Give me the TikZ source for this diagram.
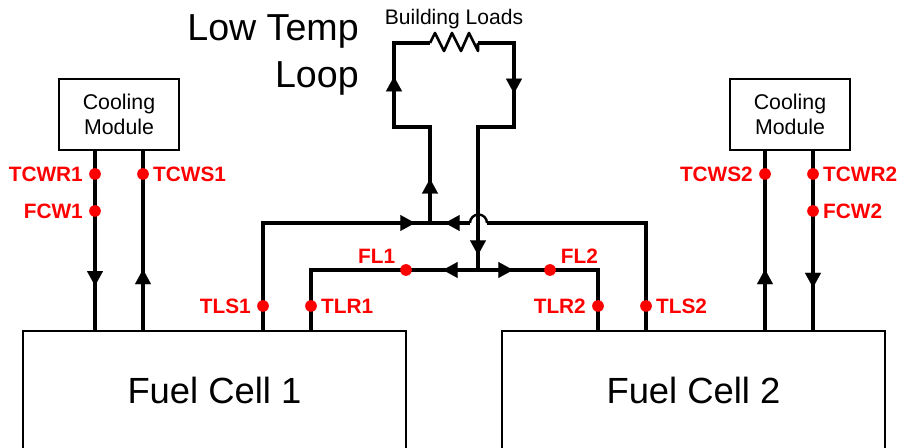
\documentclass[tikz,border=0pt]{standalone}
\usepackage{fontspec}
\setmainfont{Liberation Sans}
\usetikzlibrary{positioning,arrows.meta,decorations.markings}
\tikzset{
  figbox/.style={draw, line width=1.3pt, align=center, inner sep=0pt, fill=white},
  fuelbox/.style={figbox, minimum width=287pt, minimum height=88.5pt, font=\fontsize{27.3}{30}\selectfont},
  coolbox/.style={figbox, minimum width=90pt, minimum height=53pt, font=\fontsize{16}{19}\selectfont},
  pipe/.style={line width=3pt, line join=miter},
  flowtip/.style={postaction={decorate}, decoration={markings,
    mark=at position #1 with {\arrow[line width=0.1pt]{Triangle[length=11pt,width=12pt]}}}},
  sensor/.style={circle, fill=red, inner sep=0pt, minimum size=8.5pt},
  senslabel/.style={text=red, inner sep=0pt, font=\fontsize{15.6}{18}\selectfont\bfseries},
}
\begin{document}
\begin{tikzpicture}[x=0.75pt,y=-0.75pt]
  \useasboundingbox (0,0) rectangle (900,448);
  \clip (0,0) rectangle (900,448);
  % boxes
  \node[fuelbox] (fc1) at (214.5,390) {Fuel Cell 1};
  \node[fuelbox] (fc2) at (693.5,390) {Fuel Cell 2};
  \node[coolbox] (cm1) at (119,114.5) {Cooling\\Module};
  \node[coolbox] (cm2) at (790,114.5) {Cooling\\Module};
  % low temp loop corners
  \coordinate (supup) at (430,127);
  \coordinate (retup) at (478,127);
  \coordinate (ll) at (394,127);
  \coordinate (lr) at (514,127);
  \coordinate (ul) at (394,43);
  \coordinate (ur) at (514,43);
  \coordinate (resl) at (430,43);
  \coordinate (resr) at (478,43);
  \coordinate (supj) at (430,223);
  \coordinate (hopr) at (487,223);
  \coordinate (hopl) at (470,223);
  \coordinate (retj) at (478,270);
  \coordinate (tlsc1) at (263,223);
  \coordinate (tlrc1) at (311,270);
  \coordinate (tlsc2) at (646,223);
  \coordinate (tlrc2) at (598,270);
  % sensors
  \node[sensor] (tcwr1) at (95,174) {};
  \node[sensor] (fcw1) at (95,211) {};
  \node[sensor] (tcws1) at (143,174) {};
  \node[sensor] (tcws2) at (765,174) {};
  \node[sensor] (tcwr2) at (813,174) {};
  \node[sensor] (fcw2) at (813,211) {};
  \node[sensor] (tls1) at (263,306) {};
  \node[sensor] (tlr1) at (311,306) {};
  \node[sensor] (tlr2) at (598,306) {};
  \node[sensor] (tls2) at (646,306) {};
  \node[sensor] (fl1) at (406,270) {};
  \node[sensor] (fl2) at (550,270) {};
  % cooling water lines
  \draw[pipe, flowtip=0.75] (95,150) -- (95,331);
  \draw[pipe, flowtip=0.34] (143,331) -- (143,150);
  \draw[pipe, flowtip=0.34] (765,331) -- (765,150);
  \draw[pipe, flowtip=0.76] (813,150) -- (813,331);
  % stack lines
  \draw[pipe] (fc1.north -| tls1) -- (tlsc1) -- (supj);
  \path[flowtip=0.91] (tlsc1) -- (supj);
  \draw[pipe] (fc1.north -| tlr1) -- (tlrc1) -- (retj) -- (tlrc2) -- (fc2.north -| tlr2);
  \path[flowtip=0.53] (retj) -- (fl1);
  \path[flowtip=0.53] (retj) -- (fl2);
  \draw[pipe] (fc2.north -| tls2) -- (tlsc2) -- (hopr);
  \draw[pipe, flowtip=0.625] (hopl) -- (supj);
  \draw[line width=1.8pt] (hopr) arc[start angle=0, end angle=-180, radius=8.5];
  % low temp loop
  \draw[pipe] (supj) -- (supup) -- (ll) -- (ul) -- (resl);
  \path[flowtip=0.46] (supj) -- (supup);
  \path[flowtip=0.6] (ll) -- (ul);
  \draw[line width=2pt, line join=round] (resl) -- ++(5,-10) -- ++(9,18) -- ++(8,-18) -- ++(9,18) -- ++(8,-18) -- ++(9,18) -- (resr);
  \draw[pipe] (resr) -- (ur) -- (lr) -- (retup) -- (retj);
  \path[flowtip=0.6] (ur) -- (lr);
  \path[flowtip=0.895] (retup) -- (retj);
  % sensor dots on top of the lines
  \foreach \s in {tcwr1,fcw1,tcws1,tcws2,tcwr2,fcw2,tls1,tlr1,tlr2,tls2,fl1,fl2}
    \fill[red] (\s) circle[radius=5.8];
  % labels
  \node[senslabel, left=4.5pt of tcwr1] (ltcwr1) {TCWR1};
  \node[senslabel, left=4.5pt of fcw1] (lfcw1) {FCW1};
  \node[senslabel, right=3pt of tcws1] (ltcws1) {TCWS1};
  \node[senslabel, left=4.5pt of tcws2] (ltcws2) {TCWS2};
  \node[senslabel, right=3pt of tcwr2] (ltcwr2) {TCWR2};
  \node[senslabel, right=3pt of fcw2] (lfcw2) {FCW2};
  \node[senslabel, left=4.5pt of tls1] (ltls1) {TLS1};
  \node[senslabel, right=3pt of tlr1] (ltlr1) {TLR1};
  \node[senslabel, left=4.5pt of tlr2] (ltlr2) {TLR2};
  \node[senslabel, right=3pt of tls2] (ltls2) {TLS2};
  \node[senslabel, above left=0pt and 8pt of fl1.north] (lfl1) {FL1};
  \node[senslabel, above right=0pt and 8pt of fl2.north] (lfl2) {FL2};
  \node[inner sep=0pt, font=\fontsize{15.8}{18}\selectfont] (bload) at (454,19) {Building Loads};
  \node[inner sep=0pt, align=right, font=\fontsize{28.2}{35}\selectfont, anchor=east] (ltl) at (359,55) {Low Temp\\Loop};
\end{tikzpicture}
\end{document}
